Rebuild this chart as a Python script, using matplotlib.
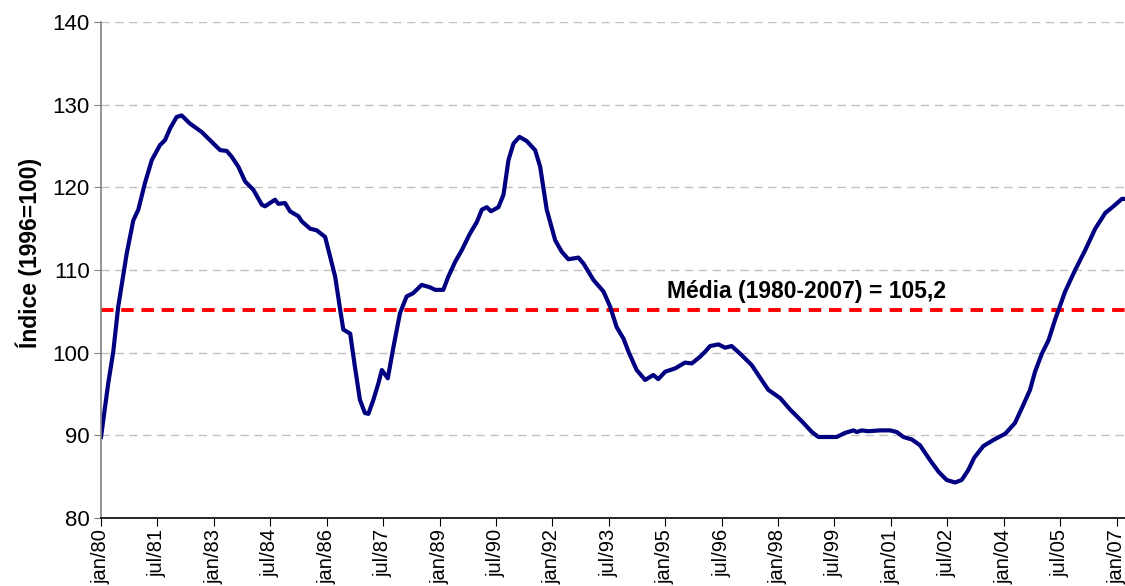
import matplotlib
matplotlib.use("Agg")
import matplotlib.pyplot as plt

# months since jan/1980 and index value (1996=100)
months = [0, 2.3, 3.9, 5.5, 8.2, 10.3, 11.9, 14.0, 16.2, 18.8, 20.4, 22.0, 24.1, 25.7,
          28.4, 32.1, 34.8, 38.0, 40.1, 41.7, 43.8, 46.0, 48.6, 51.3, 52.3, 55.5, 56.6,
          58.7, 60.3, 63.0, 64.0, 66.7, 68.8, 71.5, 73.1, 74.7, 76.3, 77.3, 79.5, 81.0,
          82.6, 84.2, 85.3, 86.9, 88.5, 89.6, 91.5, 93.3, 95.4, 97.5, 99.6, 102.3, 105.0,
          106.6, 109.2, 110.8, 113.0, 115.1, 117.7, 119.9, 121.5, 123.1, 124.4, 126.8,
          128.4, 130.0, 131.6, 133.5, 135.8, 138.5, 140.1, 142.2, 144.9, 147.0, 149.1,
          152.3, 153.9, 157.1, 160.3, 162.4, 164.5, 166.7, 168.3, 170.9, 173.6, 176.2,
          177.8, 180.0, 183.2, 186.3, 188.5, 191.1, 192.7, 194.3, 197.0, 199.1, 201.2,
          204.4, 207.6, 209.7, 212.9, 216.7, 219.9, 223.6, 226.8, 228.9, 234.7, 237.4,
          240.1, 241.1, 242.7, 244.8, 248.6, 251.8, 253.9, 256.0, 258.7, 261.3, 264.5,
          267.2, 269.8, 272.5, 274.6, 276.7, 278.6, 281.5, 285.0, 288.5, 291.6, 293.8,
          296.4, 298.0, 300.2, 302.3, 304.4, 307.6, 310.8, 314.0, 317.2, 320.4, 323.0,
          325.7, 326.7]
indice = [89.8, 96.3, 100.1, 105.6, 112.0, 116.0, 117.3, 120.5, 123.3, 125.1, 125.7, 127.1,
          128.5, 128.7, 127.7, 126.7, 125.7, 124.5, 124.4, 123.7, 122.5, 120.7, 119.7,
          117.9, 117.7, 118.5, 118.0, 118.1, 117.1, 116.5, 115.9, 115.0, 114.8, 114.0,
          111.6, 109.2, 105.2, 102.8, 102.3, 98.3, 94.3, 92.7, 92.6, 94.3, 96.3, 97.9,
          96.9, 100.7, 104.8, 106.8, 107.2, 108.2, 107.9, 107.6, 107.6, 109.2, 111.0,
          112.4, 114.4, 115.8, 117.3, 117.6, 117.1, 117.6, 119.1, 123.3, 125.3, 126.1,
          125.6, 124.5, 122.5, 117.3, 113.6, 112.2, 111.3, 111.5, 110.8, 108.8, 107.4,
          105.6, 103.1, 101.7, 100.1, 97.9, 96.7, 97.3, 96.8, 97.7, 98.1, 98.8, 98.7,
          99.5, 100.1, 100.8, 101.0, 100.6, 100.8, 99.7, 98.5, 97.3, 95.5, 94.5, 93.1,
          91.7, 90.4, 89.8, 89.8, 90.3, 90.6, 90.4, 90.6, 90.5, 90.6, 90.6, 90.4, 89.8,
          89.5, 88.8, 87.0, 85.6, 84.6, 84.3, 84.6, 85.8, 87.3, 88.7, 89.5, 90.2, 91.5,
          93.3, 95.5, 97.7, 99.9, 101.5, 104.0, 107.4, 110.0, 112.4, 115.0, 116.9, 117.7,
          118.6, 118.6]

media = 105.2
tick_labels = ["jan/80", "jul/81", "jan/83", "jul/84", "jan/86", "jul/87", "jan/89",
               "jul/90", "jan/92", "jul/93", "jan/95", "jul/96", "jan/98", "jul/99",
               "jan/01", "jul/02", "jan/04", "jul/05", "jan/07"]

plt.rcParams['font.family'] = ['Liberation Sans', 'DejaVu Sans']

fig = plt.figure(figsize=(11.25, 5.86), dpi=100)
ax = fig.add_axes([0.0898, 0.116, 0.9102, 0.8465])

# ---------- grid ----------
for v in range(90, 141, 10):
    ax.axhline(v, color='#c0c0c0', lw=1, dashes=(6, 4), zorder=0)

# ---------- mean line ----------
ax.axhline(media, color='#ff0000', lw=2.8, dashes=(3.2, 2.0), zorder=1)
ax.text(225, 107.4, "Média (1980-2007) = 105,2", fontsize=16.5, fontweight='bold',
        ha='center', va='center')

# ---------- series ----------
ax.plot(months, indice, color='#000080', lw=3, solid_joinstyle='round', zorder=2)

ax.set_xlim(0, 326.7)
ax.set_ylim(80, 140)
ax.set_yticks(range(80, 141, 10))
ax.set_xticks(range(0, 325, 18))
ax.set_xticklabels(tick_labels, rotation=90, fontsize=14.5)
ax.tick_params(axis='y', labelsize=16, length=5, color='#808080', pad=3)
ax.tick_params(axis='x', length=6, color='black', pad=2)

for s in ['top', 'right']:
    ax.spines[s].set_visible(False)
ax.spines['left'].set_color('#808080')
ax.spines['left'].set_linewidth(1.2)
ax.spines['bottom'].set_color('black')
ax.spines['bottom'].set_linewidth(1.2)

fig.text(0.026, 0.568, "Índice (1996=100)", rotation=90, fontsize=16.5,
         fontweight='bold', ha='center', va='center')

fig.savefig("out.png", dpi=100)
